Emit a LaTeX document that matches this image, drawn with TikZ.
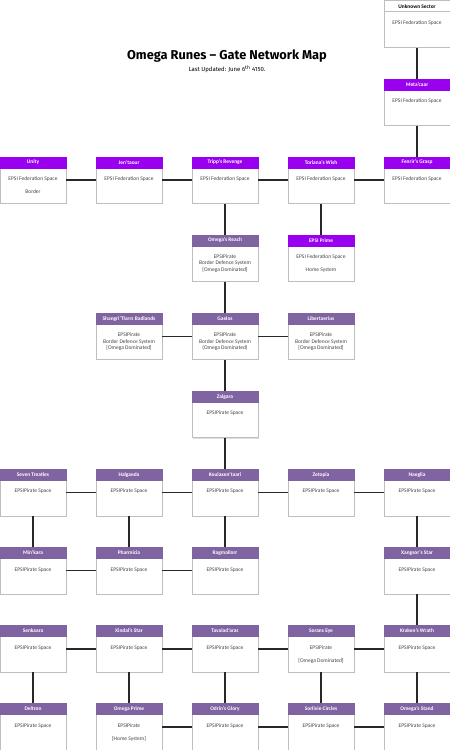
\documentclass[tikz,border=0pt]{standalone}
\usepackage{fontspec}
\setmainfont{Carlito}
\newfontfamily\titlefont{Fira Sans}
\usetikzlibrary{calc, positioning, shadows}
\definecolor{fedcol}{RGB}{153, 0, 240}
\definecolor{pircol}{RGB}{128, 100, 162}
\definecolor{framecol}{RGB}{190, 190, 190}
\definecolor{infocol}{RGB}{70, 70, 70}
\definecolor{linkcol}{RGB}{40, 40, 40}
\tikzset{
  gatebody/.style = {draw=framecol, fill=white, line width=0.6pt,
                     minimum width=66pt, minimum height=46.5pt, inner sep=0pt,
                     drop shadow={shadow xshift=0.8pt, shadow yshift=-0.8pt,
                                  opacity=0.25}},
  hdr/.style      = {minimum width=66pt, minimum height=11pt, inner sep=0pt,
                     font=\fontsize{5.4}{6}\selectfont\bfseries},
  fed/.style      = {hdr, fill=fedcol, draw=fedcol, text=white},
  pir/.style      = {hdr, fill=pircol, draw=pircol, text=white},
  plain/.style    = {hdr, fill=white, draw=framecol, text=black},
  info/.style     = {align=center, inner sep=0pt, text=infocol,
                     font=\fontsize{5.5}{6.3}\selectfont},
  link/.style     = {draw=linkcol, line width=1.5pt},
}

\begin{document}
\begin{tikzpicture}[x=1pt, y=-1pt]
  \useasboundingbox (0,0) rectangle (450,750);

  %% ---------------- title ----------------
  \node[font=\titlefont\fontsize{12.8}{14}\selectfont\bfseries, inner sep=0pt]
       (title) at (227,56) {Omega Runes \textendash{} Gate Network Map};
  \node[font=\titlefont\fontsize{6}{7}\selectfont, inner sep=0pt,
        below=3pt of title] (updated)
       {Last Updated: June 6\textsuperscript{th} 4150.};

  %% ---------------- the gates ----------------
  \foreach \id/\col/\row/\kind/\title/\info in {
    unk/5/0/plain/{Unknown Sector}/{EPSI Federation Space},
    meta/5/1/fed/{Meta'caar}/{EPSI Federation Space},
    unity/1/2/fed/{Unity}/{EPSI Federation Space\\[6.7pt]Border},
    jen/2/2/fed/{Jen'taour}/{EPSI Federation Space},
    tripp/3/2/fed/{Tripp's Revenge}/{EPSI Federation Space},
    tor/4/2/fed/{Toriana's Wish}/{EPSI Federation Space},
    fenrir/5/2/fed/{Fenrir's Grasp}/{EPSI Federation Space},
    oreach/3/3/pir/{Omega's Reach}/{EPSIPirate\\Border Defence System\\{}[Omega Dominated]},
    eprime/4/3/fed/{EPSI Prime}/{EPSI Federation Space\\[6.7pt]Home System},
    shang/2/4/pir/{Shangri'Tlarrs Badlands}/{EPSIPirate\\Border Defence System\\{}[Omega Dominated]},
    gaelos/3/4/pir/{Gaelos}/{EPSIPirate\\Border Defence System\\(Omega Dominated)},
    liber/4/4/pir/{Libertaerius}/{EPSIPirate\\Border Defence System\\{}[Omega Dominated]},
    zal/3/5/pir/{Zalgara}/{EPSIPirate Space},
    seven/1/6/pir/{Seven Treaties}/{EPSIPirate Space},
    halg/2/6/pir/{Halgaeda}/{EPSIPirate Space},
    koul/3/6/pir/{Koulaxen'taari}/{EPSIPirate Space},
    zet/4/6/pir/{Zetopia}/{EPSIPirate Space},
    naeg/5/6/pir/{Naeglia}/{EPSIPirate Space},
    mink/1/7/pir/{Min'kara}/{EPSIPirate Space},
    pharm/2/7/pir/{Pharmicia}/{EPSIPirate Space},
    ragm/3/7/pir/{Ragmallorr}/{EPSIPirate Space},
    xang/5/7/pir/{Xangsor's Star}/{EPSIPirate Space},
    senk/1/8/pir/{Senkaara}/{EPSIPirate Space},
    xindal/2/8/pir/{Xindal's Star}/{EPSIPirate Space},
    taval/3/8/pir/{Tavalad'aras}/{EPSIPirate Space},
    sorans/4/8/pir/{Sorans Eye}/{EPSIPirate\\[6.7pt]{}[Omega Dominated]},
    kraken/5/8/pir/{Kraken's Wrath}/{EPSIPirate Space},
    delt/1/9/pir/{Deltron}/{EPSIPirate Space},
    oprime/2/9/pir/{Omega Prime}/{EPSIPirate\\[6.7pt]{}[Home System]},
    odrin/3/9/pir/{Odrin's Glory}/{EPSIPirate Space},
    sorl/4/9/pir/{Sorlivie Circles}/{EPSIPirate Space},
    ostand/5/9/pir/{Omega's Stand}/{EPSIPirate Space}} {
    \node[gatebody] (\id) at ({96*\col-63},{78.1*\row+24}) {};
    \node[\kind, anchor=north] (\id-h) at (\id.north) {\title};
    \node[info, anchor=north] (\id-i) at ($(\id-h.south)+(0,8.5)$) {\info};
  }

  %% ---------------- the links ----------------
  \foreach \a/\b in {unk/meta, meta/fenrir,
                     unity/jen, jen/tripp, tripp/tor, tor/fenrir,
                     tripp/oreach, tor/eprime, oreach/gaelos,
                     shang/gaelos, gaelos/liber, gaelos/zal, zal/koul,
                     seven/halg, halg/koul, koul/zet, zet/naeg,
                     seven/mink, halg/pharm, koul/ragm, naeg/xang,
                     mink/pharm, pharm/ragm, xang/kraken,
                     senk/xindal, xindal/taval, taval/sorans, sorans/kraken,
                     senk/delt, xindal/oprime, taval/odrin, sorans/sorl,
                     kraken/ostand,
                     oprime/odrin, odrin/sorl, sorl/ostand}
    \draw[link] (\a) -- (\b);

\end{tikzpicture}
\end{document}
